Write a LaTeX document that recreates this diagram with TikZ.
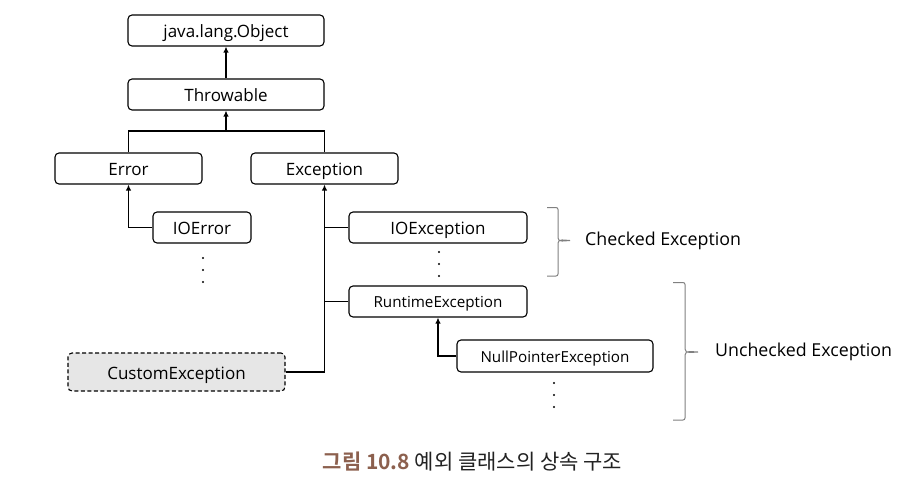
\documentclass[tikz,border=0pt]{standalone}
\usepackage{fontspec}
\setmainfont{Open Sans}
\newfontfamily\krfont{Noto Sans CJK KR}
\newfontfamily\krbold{Noto Sans CJK KR Bold}
\usetikzlibrary{arrows.meta}
\definecolor{capbrown}{RGB}{140,96,78}
\definecolor{custfill}{RGB}{230,230,230}
\definecolor{bracegray}{RGB}{128,128,128}
\begin{document}
\begin{tikzpicture}[x=1pt,y=-1pt,
  cls/.style={draw=black, line width=1.1pt, rounded corners=4pt, inner sep=0pt,
    font=\fontsize{17}{20}\selectfont, text height=17pt, text depth=2.7pt},
  clssmall/.style={cls, font=\fontsize{15.2}{18}\selectfont, text height=14.5pt, text depth=2.5pt},
  conn/.style={line width=1.3pt, draw=black},
  arr/.style={conn, -{Latex[length=6pt,width=5.5pt]}},
  dot/.style={circle, fill=black, inner sep=0pt, minimum size=2.4pt},
  bracel/.style={draw=bracegray, line width=1pt},
  lbl/.style={font=\fontsize{17.8}{20}\selectfont, anchor=west, inner sep=0pt}
]
\useasboundingbox (0,0) rectangle (914,480);

\node[cls, minimum width=196pt, minimum height=31pt] (obj) at (226,30.5) {java.lang.Object};
\node[cls, minimum width=196pt, minimum height=31pt] (thr) at (226,94.5) {Throwable};
\node[cls, minimum width=147pt, minimum height=31pt] (err) at (128.5,168.5) {Error};
\node[cls, minimum width=147pt, minimum height=31pt] (exc) at (324.5,168.5) {Exception};
\node[cls, minimum width=98pt, minimum height=31pt] (ioerr) at (202,227.5) {IOError};
\node[cls, minimum width=178pt, minimum height=31pt] (ioexc) at (438,227.5) {IOException};
\node[clssmall, minimum width=178pt, minimum height=31pt] (rte) at (438,301.5) {RuntimeException};
\node[clssmall, minimum width=196pt, minimum height=32pt] (npe) at (555,356) {NullPointerException};
\node[cls, dashed, dash pattern=on 4pt off 2.5pt, fill=custfill, minimum width=217pt, minimum height=38pt] (cust) at (176.5,372) {CustomException};

% connectors
\draw[arr] (thr.north) -- (obj.south);
\coordinate (j) at (226,131);
\draw[conn] (err.north) |- (j) -| (exc.north);
\draw[arr] (j) -- (thr.south);
\draw[arr] (ioerr.west) -| (err.south);
\draw[arr] (cust.east) -| (exc.south);
\draw[conn] (ioexc.west) -- (ioexc.west -| exc.south);
\draw[conn] (rte.west) -- (rte.west -| exc.south);
\draw[arr] (npe.west) -| (rte.south);

% dots
\foreach \yy/\n in {258/a,270/b,282/c} \node[dot] (d1\n) at (203,\yy) {};
\foreach \yy/\n in {252/a,264/b,276/c} \node[dot] (d2\n) at (439,\yy) {};
\foreach \yy/\n in {383/a,395/b,407/c} \node[dot] (d3\n) at (554,\yy) {};

% braces
\draw[bracel] (547,207.5) -- (556,207.5) to[out=0,in=90] (558,209.5) -- (558,238)
  to[out=270,in=180] (570,240.5) (558,243) to[out=90,in=180] (570,240.5)
  (558,243) -- (558,274) to[out=270,in=0] (556,276) -- (547,276);
\draw[bracel] (673,282.5) -- (683,282.5) to[out=0,in=90] (685,284.5) -- (685,349)
  to[out=270,in=180] (698,352) (685,355) to[out=90,in=180] (698,352)
  (685,355) -- (685,418) to[out=270,in=0] (683,420) -- (673,420);
\node[lbl] (chk) at (585,241) {Checked Exception};
\node[lbl] (unchk) at (715,352) {Unchecked Exception};

% caption
\node[inner sep=0pt] (cap) at (472.5,462) {\fontsize{21}{24}\selectfont\color{capbrown}\krbold 그림 10.8\color[RGB]{34,34,34}\krfont\ 예외 클래스의 상속 구조};
\end{tikzpicture}
\end{document}
